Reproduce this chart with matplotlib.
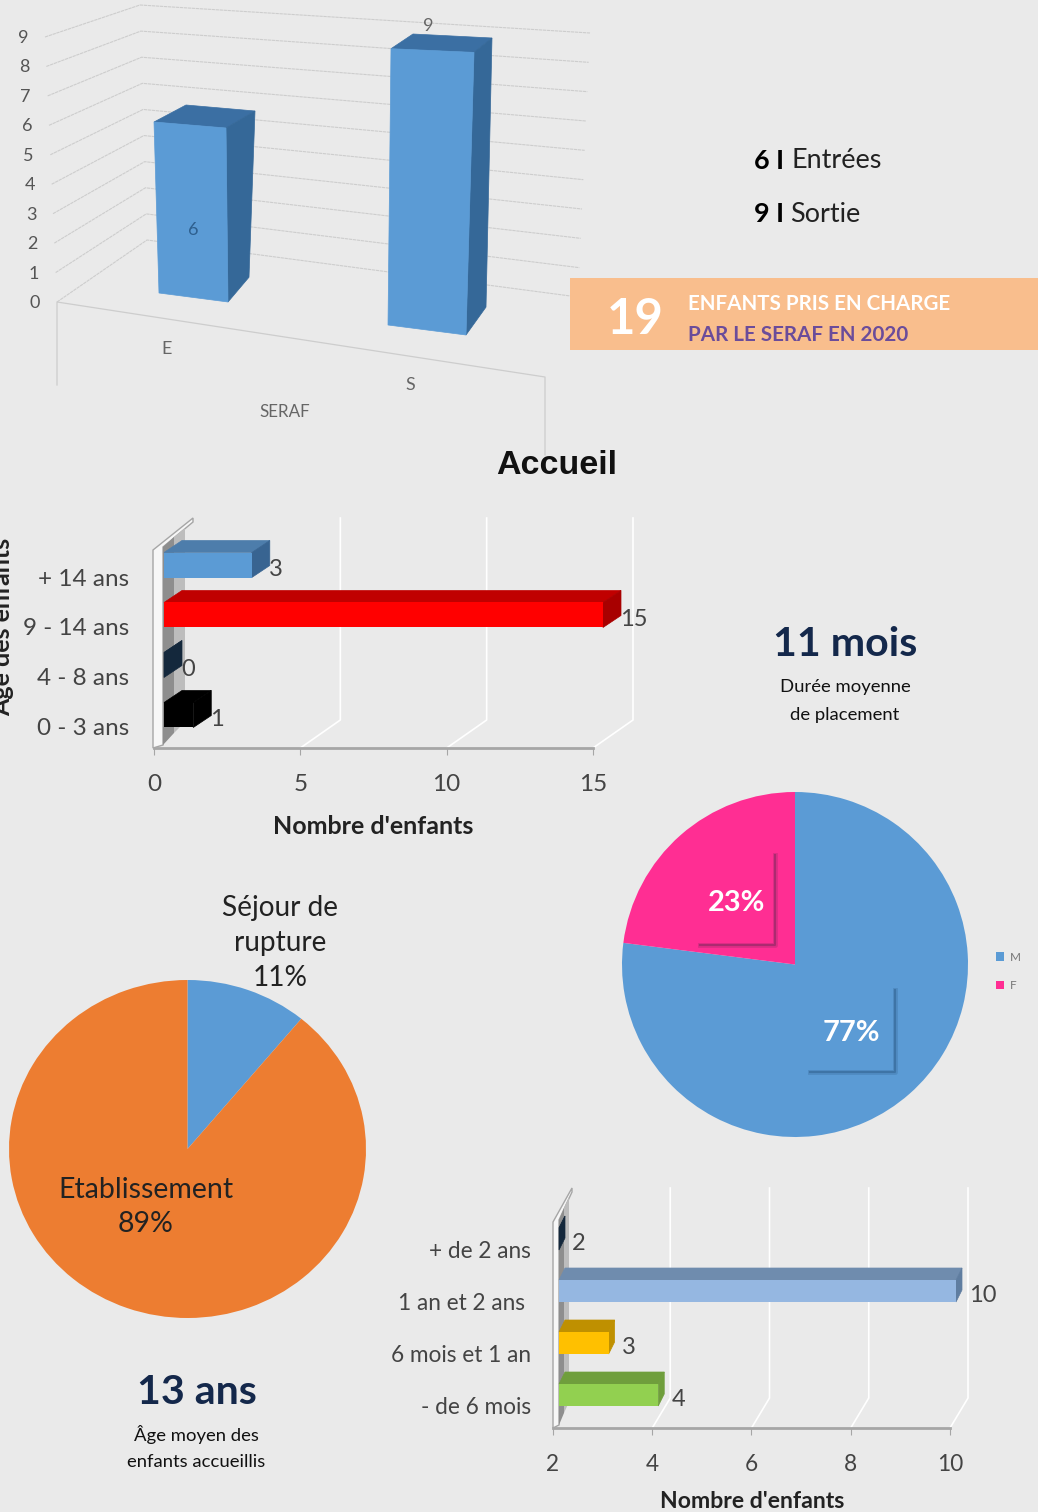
import matplotlib
matplotlib.use('Agg')
import matplotlib.pyplot as plt
from matplotlib.patches import Polygon, Rectangle

W, H = 1038, 1512
BG = '#eaeaea'
plt.rcParams['font.family'] = ['Lato', 'DejaVu Sans']

# chart 1: entries and exits
flow_labels = ['E', 'S']
flow_values = [6, 9]
flow_ticks = [0, 1, 2, 3, 4, 5, 6, 7, 8, 9]

# chart 2: age of children
age_labels = ['0 - 3 ans', '4 - 8 ans', '9 - 14 ans', '+ 14 ans']
age_values = [1, 0, 15, 3]
age_xticks = [0, 5, 10, 15]

# chart 3: length of placement
stay_labels = ['- de 6 mois', '6 mois et 1 an', '1 an et 2 ans ', '+ de 2 ans']
stay_values = [4, 3, 10, 2]
stay_xticks = [2, 4, 6, 8, 10]

# pies
sex_labels = ['M', 'F']
sex_values = [77, 23]
place_labels = ['Séjour de', 'rupture', 'Etablissement']
place_values = [11, 89]


def px(x, y):
    return x / W, 1 - y / H


def label(x, y, s, size, color='#222222', weight='normal', ha='center', family=None, **kw):
    fig.text(*px(x, y + 4), s, fontsize=size * 0.72, color=color, fontweight=weight, ha=ha,
             va='center', family=family or ['Lato', 'DejaVu Sans'], **kw)


fig = plt.figure(figsize=(W / 100, H / 100), dpi=100, facecolor=BG)
bg = fig.add_axes([0, 0, 1, 1], zorder=0)
bg.set_xlim(0, W)
bg.set_ylim(H, 0)
bg.axis('off')

# --- chart 1, hand made perspective box ---
grid_c = '#cdcdcd'
for i, t in enumerate(flow_ticks):
    f = t / flow_ticks[-1]
    y_left = 302 + (37 - 302) * f
    x_left = 57 + (45 - 57) * f
    y_back = 240 + (5 - 240) * f
    x_back = 147 + (140 - 147) * f
    y_right = 297 + (33 - 297) * f
    x_right = 578 + (590 - 578) * f
    bg.plot([x_left, x_back, x_right], [y_left, y_back, y_right], color=grid_c, lw=0.8,
            ls=(0, (3, 0.6)), zorder=0)
    bg.text(x_left - 22, y_left + 1, str(t), fontsize=13, color='#555555', ha='center', va='center')
bg.plot([57, 57, 545, 545], [385, 302, 377, 455], color=grid_c, lw=0.9, zorder=0)

# bar outlines: front base, top x, height per unit left/right, then back corner
flow_geom = [
    dict(bl=(159, 293), br=(228, 302), tx=(154, 226), u=(28.5, 29.0), back=(186, 255), back_top=(105, 111), ub=27.7),
    dict(bl=(388, 325), br=(466, 335), tx=(391, 474), u=(30.7, 31.4), back=(413, 492), back_top=(34, 38), ub=29.9),
]
for v, g in zip(flow_values, flow_geom):
    tl = (g['tx'][0], g['bl'][1] - v * g['u'][0])
    tr = (g['tx'][1], g['br'][1] - v * g['u'][1])
    bk_l = (g['back'][0], g['back_top'][0])
    bk_r = (g['back'][1], g['back_top'][1])
    bk_b = (g['back'][1] - 6, g['back_top'][1] + v * g['ub'])
    bg.add_patch(Polygon([tl, bk_l, bk_r, tr], fc='#3b6fa3', ec='#3b6fa3', lw=0.5))
    bg.add_patch(Polygon([tr, bk_r, bk_b, g['br']], fc='#356898', ec='#356898', lw=0.5))
    bg.add_patch(Polygon([g['bl'], g['br'], tr, tl], fc='#5b9bd5', ec='#5b9bd5', lw=0.5))

label(193, 226, str(flow_values[0]), 18, color='#2e5f8e')
label(428, 22, str(flow_values[1]), 18, color='#666666')
label(167, 345, flow_labels[0], 18, color='#666666')
label(410, 381, flow_labels[1], 18, color='#666666')
label(285, 408, 'SERAF', 17, color='#666666')


# --- the two 3d looking horizontal bar charts ---
def hbar3d(left, right, top, bottom, xmin, xmax, row0, rowpx, values, labels, xticks, colors,
           shift, bar_h, dx, dy, wall_dx, wall_dy, lab_dy, lab_right, val_dx, tick_size):
    ax = fig.add_axes([left / W, 1 - bottom / H, (right - left) / W, (bottom - top) / H], zorder=1)
    ax.patch.set_alpha(0)
    sx = (right - left) / (xmax - xmin)
    ax.set_xlim(xmin, xmax)
    ax.set_ylim((row0 - bottom) / rowpx, (row0 - top) / rowpx)
    rows = list(range(len(values)))
    ddx, ddy = dx / sx, dy / rowpx
    x0 = xmin + shift / sx
    h = bar_h / rowpx
    for t in xticks[1:]:
        gy = (row0 - (bottom - wall_dy)) / rowpx
        ax.plot([t, t + wall_dx / sx, t + wall_dx / sx], [ax.get_ylim()[0], gy, ax.get_ylim()[1]],
                color='white', lw=1.2, clip_on=False, zorder=1)
    for r, v, c in zip(rows, values, colors):
        x1 = x0 + (v - xmin)
        ax.add_patch(Polygon([(x0, r + h / 2), (x0 + ddx, r + h / 2 + ddy), (x1 + ddx, r + h / 2 + ddy), (x1, r + h / 2)],
                             fc=c[1], ec=c[1], lw=0.5, clip_on=False, zorder=3))
        ax.add_patch(Polygon([(x1, r + h / 2), (x1 + ddx, r + h / 2 + ddy), (x1 + ddx, r - h / 2 + ddy), (x1, r - h / 2)],
                             fc=c[2], ec=c[2], lw=0.5, clip_on=False, zorder=3))
    ax.barh(rows, [v - xmin for v in values], left=x0, height=h, color=[c[0] for c in colors],
            clip_on=False, zorder=4)
    for r, v in zip(rows, values):
        ax.annotate(str(v), (x0 + v - xmin, r), xytext=(val_dx, -4.5), textcoords='offset pixels',
                    fontsize=17, color='#444444', va='center', annotation_clip=False, zorder=5)
    for s in ['top', 'right', 'left']:
        ax.spines[s].set_visible(False)
    ax.spines['bottom'].set_color('#a6a6a6')
    ax.spines['bottom'].set_linewidth(2)
    ax.set_xticks(xticks)
    ax.set_xticklabels([str(t) for t in xticks], fontsize=tick_size, color='#444444')
    ax.tick_params(axis='x', color='#a6a6a6', length=5, pad=14)
    ax.set_yticks([r - lab_dy / rowpx for r in rows])
    ax.set_yticklabels(labels, fontsize=tick_size, color='#444444')
    ax.tick_params(axis='y', length=0, pad=(left - lab_right) * 0.72)
    return ax


age_colors = [('#000000', '#000000', '#000000'), ('#14283c', '#14283c', '#14283c'),
              ('#ff0000', '#c00000', '#a80000'), ('#5b9bd5', '#4d7dab', '#386491')]
stay_colors = [('#92d050', '#6f9e3c', '#6f9e3c'), ('#ffc000', '#bf9000', '#bf9000'),
               ('#95b7e1', '#6f8cae', '#5f7da0'), ('#14283c', '#14283c', '#14283c')]

# walls sit behind the bars
bg.add_patch(Polygon([(153, 550), (193, 518), (193, 522), (163, 547), (163, 745), (153, 748)], fc='#f7f7f7', ec='#a6a6a6', lw=1))
bg.add_patch(Polygon([(163, 547), (174, 537), (174, 733), (163, 745)], color='#8e8e8e', lw=0))
bg.add_patch(Polygon([(174, 537), (185, 528), (185, 722), (174, 733)], color='#bdbdbd', lw=0))
bg.add_patch(Polygon([(553, 1222), (572, 1188), (572, 1192), (559, 1220), (559, 1425), (553, 1428)], fc='#f7f7f7', ec='#a6a6a6', lw=1))
bg.add_patch(Polygon([(559, 1220), (564, 1208), (564, 1413), (559, 1425)], color='#8e8e8e', lw=0))
bg.add_patch(Polygon([(564, 1208), (569, 1197), (569, 1402), (564, 1413)], color='#bdbdbd', lw=0))

hbar3d(154, 593, 518, 748, 0, 15, 715, 50, age_values, age_labels, age_xticks, age_colors,
       shift=10, bar_h=25, dx=18, dy=12, wall_dx=40, wall_dy=28, lab_dy=12, lab_right=129, val_dx=17,
       tick_size=17.5)
hbar3d(553, 950, 1188, 1428, 2, 10, 1395, 52, stay_values, stay_labels, stay_xticks, stay_colors,
       shift=6, bar_h=22, dx=6, dy=12, wall_dx=18, wall_dy=30, lab_dy=10.5, lab_right=531, val_dx=13,
       tick_size=16.3)

label(373, 823, "Nombre d'enfants", 25, weight='bold')
label(752, 1498, "Nombre d'enfants", 23, weight='bold')
label(1, 623, 'Âge des enfants', 25, weight='bold', rotation=90)


# --- pies ---
def pie(left, right, top, bottom, values, colors, start):
    ax = fig.add_axes([left / W, 1 - bottom / H, (right - left) / W, (bottom - top) / H], zorder=1)
    wedges, _ = ax.pie(values, colors=colors, startangle=start, counterclock=False)
    ax.set_aspect('auto')
    ax.set_xlim(-1, 1)
    ax.set_ylim(-1, 1)
    return ax, wedges


ax_sex, sex_wedges = pie(622, 968, 792, 1137, sex_values, ['#5b9bd5', '#ff2e93'], 90)
ax_sex.legend(sex_wedges, sex_labels, loc='center left', bbox_to_anchor=(1.08, 0.48), frameon=False,
              fontsize=8.5, labelcolor='#777777', handlelength=0.7, handleheight=0.7, handletextpad=0.5,
              labelspacing=1.5, borderpad=0, borderaxespad=0)
pie(9, 366, 980, 1318, place_values, ['#5b9bd5', '#ed7d31'], 90)

# label shadows on the first pie
over = fig.add_axes([0, 0, 1, 1], zorder=2)
over.set_xlim(0, W)
over.set_ylim(H, 0)
over.axis('off')
for xs, ys, c in [([775, 775, 700], [855, 945, 945], '#7c2a5c'), ([895, 895, 810], [990, 1072, 1072], '#2f5f8c')]:
    over.plot(xs, ys, color=c, lw=3.5, alpha=0.25)
    over.plot(xs, ys, color=c, lw=1.5, alpha=0.5)

label(737, 899, f'{sex_values[1]}%', 29, color='white', weight='bold')
label(851, 1029, f'{sex_values[0]}%', 29, color='white', weight='bold')
label(280, 904, place_labels[0], 28)
label(280, 939, place_labels[1], 28)
label(280, 974, f'{place_values[0]}%', 28)
label(146, 1186, place_labels[2], 28.5)
label(146, 1220, f'{place_values[1]}%', 28.5)

# --- text blocks ---
over.add_patch(Rectangle((570, 278), 468, 72, color='#f9be8d', lw=0))
label(635, 316, '19', 49, color='white', weight='bold')
label(688, 300, 'ENFANTS PRIS EN CHARGE', 20.6, color='white', weight='bold', ha='left')
label(688, 331, 'PAR LE SERAF EN 2020', 20.6, color='#6b4c9a', weight='bold', ha='left')

label(754, 157, '6 I', 27, color='black', weight='bold', ha='left')
label(791, 157, 'Entrées', 27, color='#222222', ha='left')
label(754, 210, '9 I', 27, color='black', weight='bold', ha='left')
label(790, 210, 'Sortie', 27, color='#222222', ha='left')

label(557, 462, 'Accueil', 34, color='#111111', weight='bold', family='Liberation Sans')
label(845, 640, '11 mois', 41, color='#14284b', weight='bold')
label(845, 683, 'Durée moyenne', 18.5, color='#111111')
label(845, 711, 'de placement', 18.5, color='#111111')
label(197, 1388, '13 ans', 41, color='#14284b', weight='bold')
label(196, 1430, 'Âge moyen des', 18.5, color='#111111')
label(196, 1458, 'enfants accueillis', 18.5, color='#111111')

fig.savefig('out.png', dpi=100, facecolor=BG)
